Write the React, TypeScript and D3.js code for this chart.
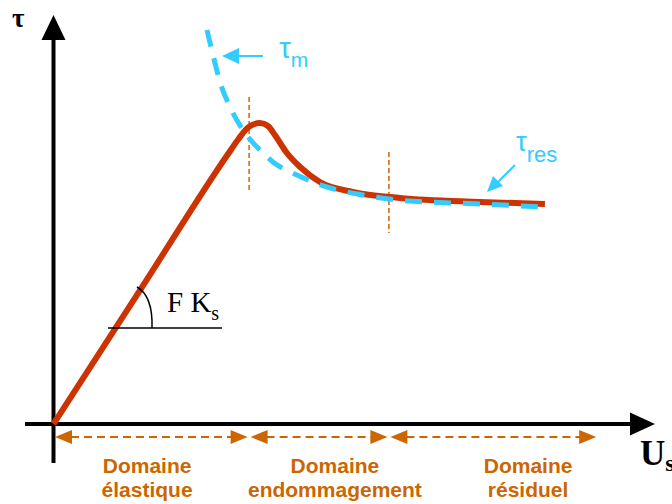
import React from "react";
import * as d3 from "d3";

// Curves (x: displacement U_s units, y: shear stress tau units)
const redX = [0, 1.5, 2.9, 3.08, 3.25, 3.44, 3.575, 3.69, 3.89, 4.11, 4.44, 4.99, 5.775, 7.11, 8.19];
const redY = [0, 3.48, 6.73, 7.12, 7.42, 7.525, 7.45, 7.225, 6.775, 6.425, 6.05, 5.8, 5.65, 5.55, 5.5];
const blueX = [2.558, 2.658, 2.775, 2.942, 3.158, 3.492, 3.658, 4.058, 4.558, 5.158, 5.725, 7.108, 8.192];
const blueY = [9.85, 9.225, 8.55, 7.925, 7.35, 6.775, 6.55, 6.225, 5.925, 5.725, 5.6, 5.5, 5.425];

// Domain boundaries along U_s
const domainBounds = [0, 3.26, 5.59, 9.07];
const domainLabelX = [1.56, 4.69, 7.91];
const domainLine1 = ["Domaine", "Domaine", "Domaine"];
const domainLine2 = ["élastique", "endommagement", "résiduel"];
// Vertical markers
const markerX = [3.26, 5.59];
const markerTop = [8.175, 6.8];
const markerBottom = [5.8, 4.775];

const W = 672;
const H = 504;
const RED = "#CC3300";
const BLUE = "#33CCFF";
const ORANGE = "#CC6600";

export default function App() {
  const x = d3.scaleLinear().domain([0, 10]).range([53.5, 653.5]);
  const y = d3.scaleLinear().domain([0, 10]).range([424, 24]);
  const line = d3
    .line<[number, number]>()
    .x((d) => x(d[0]))
    .y((d) => y(d[1]))
    .curve(d3.curveMonotoneX);
  const redPts = redX.map((v, i) => [v, redY[i]] as [number, number]);
  const bluePts = blueX.map((v, i) => [v, blueY[i]] as [number, number]);

  const ox = x(0);
  const oy = y(0);
  const ay = 437;
  const ah = 17;
  const aw = 7;

  const domainArrows = domainBounds.slice(0, -1).map((b, i) => {
    const x1 = x(b) + 1.5;
    const x2 = x(domainBounds[i + 1]) - 1.5;
    return { x1, x2 };
  });

  const hy = 328;

  return (
    <svg width={W} height={H} style={{ position: "absolute", left: 0, top: 0 }}>
      <rect width={W} height={H} fill="white" />
      {/* axes */}
      <line x1={ox} y1={38} x2={ox} y2={463} stroke="black" strokeWidth={4} />
      <path d={`M${ox},15 L${ox - 12},40 L${ox + 12},40 Z`} fill="black" />
      <line x1={25} y1={oy} x2={632} y2={oy} stroke="black" strokeWidth={4} />
      <path d={`M655,${oy} L630,${oy - 11.5} L630,${oy + 11.5} Z`} fill="black" />
      <text x={12} y={27} fontFamily="Liberation Serif, serif" fontWeight="bold" fontSize={27} fill="black">τ</text>
      <text x={640} y={465} fontFamily="Liberation Serif, serif" fontWeight="bold" fontSize={35} fill="black">
        U<tspan fontSize={24} dy={6}>s</tspan>
      </text>

      {/* vertical dashed markers */}
      {markerX.map((m, i) => (
        <line key={i} x1={x(m)} x2={x(m)} y1={y(markerTop[i])} y2={y(markerBottom[i])} stroke={ORANGE} strokeWidth={1.5} strokeDasharray="5 3" />
      ))}

      {/* red curve */}
      <path d={line(redPts) || ""} fill="none" stroke={RED} strokeWidth={6} strokeLinejoin="round" strokeLinecap="butt" />
      {/* blue dashed */}
      <path d={line(bluePts) || ""} fill="none" stroke={BLUE} strokeWidth={5} strokeDasharray="17 12" />

      {/* F Ks */}
      <line x1={108} y1={hy} x2={222} y2={hy} stroke="black" strokeWidth={1.5} />
      <path d={`M137,287 Q153,296 152,${hy}`} fill="none" stroke="black" strokeWidth={1.5} />
      <text x={167} y={312} fontFamily="Liberation Serif, serif" fontSize={29} fill="black">
        F K<tspan fontSize={20} dy={8}>s</tspan>
      </text>

      {/* tau_m annotation */}
      <line x1={263} y1={56} x2={236} y2={56} stroke={BLUE} strokeWidth={2} />
      <path d="M222,56 L239,48 L239,64 Z" fill={BLUE} />
      <text x={279} y={58} fontFamily="Liberation Sans, Arial, sans-serif" fontSize={30} fill={BLUE}>
        τ<tspan fontSize={21} dy={9}>m</tspan>
      </text>
      {/* tau_res annotation */}
      <line x1={515} y1={165} x2={497} y2={183} stroke={BLUE} strokeWidth={2} />
      <path d="M487,192 L493,176 L503,186 Z" fill={BLUE} />
      <text x={516} y={151} fontFamily="Liberation Sans, Arial, sans-serif" fontSize={27} fill={BLUE}>
        τ<tspan fontSize={22} dy={11}>res</tspan>
      </text>

      {/* domain arrows */}
      {domainArrows.map((a, i) => (
        <g key={i}>
          <line x1={a.x1 + ah - 1} x2={a.x2 - ah + 1} y1={ay} y2={ay} stroke={ORANGE} strokeWidth={2} strokeDasharray="8 5" />
          <path d={`M${a.x1},${ay} L${a.x1 + ah},${ay - aw} L${a.x1 + ah},${ay + aw} Z`} fill={ORANGE} />
          <path d={`M${a.x2},${ay} L${a.x2 - ah},${ay - aw} L${a.x2 - ah},${ay + aw} Z`} fill={ORANGE} />
        </g>
      ))}
      {domainLabelX.map((lx, i) => (
        <text key={i} x={x(lx)} textAnchor="middle" fontFamily="Liberation Sans, Arial, sans-serif" fontWeight="bold" fontSize={21} fill={ORANGE}>
          <tspan x={x(lx)} y={473}>{domainLine1[i]}</tspan>
          <tspan x={x(lx)} y={497}>{domainLine2[i]}</tspan>
        </text>
      ))}
    </svg>
  );
}
